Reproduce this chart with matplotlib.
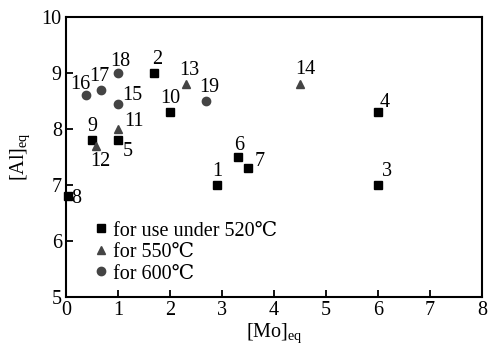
import numpy as np
import matplotlib
matplotlib.use("Agg")
import matplotlib.pyplot as plt

plt.rcParams['font.family'] = ['Liberation Serif', 'DejaVu Serif']
plt.rcParams['mathtext.fontset'] = 'custom'
plt.rcParams['mathtext.rm'] = 'Liberation Serif'

# for use under 520C (squares)
sq_id = [1, 2, 3, 4, 5, 6, 7, 8, 9, 10]
sq_mo = [2.9, 1.7, 6.0, 6.0, 1.0, 3.3, 3.5, 0.03, 0.5, 2.0]
sq_al = [7.0, 9.0, 7.0, 8.3, 7.8, 7.5, 7.3, 6.8, 7.8, 8.3]
# for 550C (triangles)
tr_id = [11, 12, 13, 14]
tr_mo = [1.0, 0.58, 2.3, 4.5]
tr_al = [8.0, 7.7, 8.8, 8.8]
# for 600C (circles)
ci_id = [15, 16, 17, 18, 19]
ci_mo = [1.0, 0.38, 0.68, 1.0, 2.7]
ci_al = [8.45, 8.6, 8.7, 9.0, 8.5]

# label offsets in pixels (dx, dy)
offs = {1: (0, 14), 2: (3, 14), 3: (9, 13), 4: (7, 10), 5: (10, -11),
        6: (2, 11), 7: (12, 7), 8: (9, -2), 9: (0, 14), 10: (0, 14),
        11: (16, 7), 12: (4, -16), 13: (4, 14), 14: (5, 15), 15: (14, 8),
        16: (-5, 11), 17: (-2, 13), 18: (2, 12), 19: (3, 14)}

fig = plt.figure(figsize=(4.99, 3.51), dpi=100)
ax = fig.add_axes([66/499, 1-297/351, 416/499, 280/351])

gray = '#444444'
ax.plot(sq_mo, sq_al, 's', color='black', ms=5.5, ls='none', label='for use under 520℃', clip_on=False)
ax.plot(tr_mo, tr_al, '^', color=gray, ms=6, ls='none', label='for 550℃', clip_on=False)
ax.plot(ci_mo, ci_al, 'o', color=gray, ms=6, ls='none', label='for 600℃', clip_on=False)

for ids, xs, ys in [(sq_id, sq_mo, sq_al), (tr_id, tr_mo, tr_al), (ci_id, ci_mo, ci_al)]:
    for i, x, y in zip(ids, xs, ys):
        ax.annotate(str(i), (x, y), xytext=offs[i], textcoords='offset pixels',
                    ha='center', va='center', fontsize=14.5)

ax.set_xlim(0, 8)
ax.set_ylim(5, 10)
ax.set_xticks(range(0, 9))
ax.set_yticks(range(5, 11))
ax.tick_params(direction='in', length=5, width=1.3, labelsize=14.5, pad=3,
               top=False, right=False)
for s in ax.spines.values():
    s.set_linewidth(1.5)

ax.set_xlabel(r'[Mo]$_{\rm eq}$', fontsize=14.5, labelpad=1)
ax.set_ylabel(r'[Al]$_{\rm eq}$', fontsize=14.5, labelpad=7)

ax.legend(loc='upper left', bbox_to_anchor=(0.07, 0.27), frameon=False,
          fontsize=14.5, handlelength=0.6, handletextpad=0.3, labelspacing=0.12,
          borderpad=0, borderaxespad=0)

fig.savefig('out.png', dpi=100)
